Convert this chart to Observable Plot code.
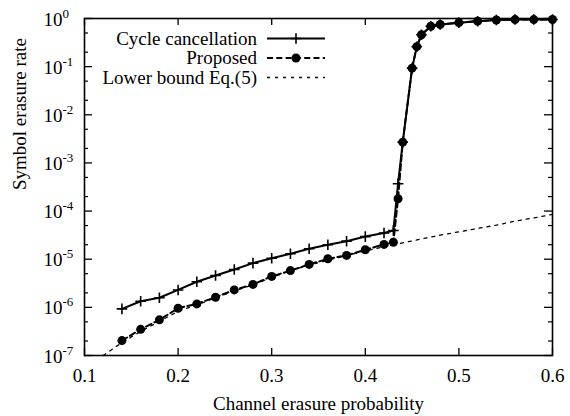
<!DOCTYPE html>
<html><head><meta charset="utf-8">
<script src="https://cdn.jsdelivr.net/npm/d3@7"></script>
<script src="https://cdn.jsdelivr.net/npm/@observablehq/plot@0.6"></script>
<style>
body{margin:0;background:#fff}
svg, svg text, svg tspan{font-family:"Liberation Serif","Times New Roman",Times,serif !important}
</style>
</head><body><div id="chart"></div>
<script>
// ---- data ----
const probability = [0.14,0.16,0.18,0.20,0.22,0.24,0.26,0.28,0.30,0.32,0.34,0.36,0.38,0.40,0.42,0.43,0.435,0.44,0.45,0.455,0.46,0.47,0.48,0.50,0.52,0.54,0.56,0.58,0.60];
const cycleRate = [9.3e-7,1.34e-6,1.58e-6,2.3e-6,3.4e-6,4.6e-6,6.1e-6,8.3e-6,1.05e-5,1.3e-5,1.65e-5,2.0e-5,2.37e-5,2.95e-5,3.5e-5,3.95e-5,3.7e-4,2.7e-3,0.093,0.26,0.46,0.69,0.75,0.82,0.88,0.93,0.95,0.95,0.955];
const proposedRate = [2.04e-7,3.5e-7,5.5e-7,9.6e-7,1.18e-6,1.62e-6,2.3e-6,3.0e-6,4.4e-6,5.8e-6,7.8e-6,1.02e-5,1.2e-5,1.57e-5,2.03e-5,2.25e-5,1.8e-4,2.7e-3,0.093,0.26,0.46,0.69,0.75,0.82,0.88,0.93,0.95,0.95,0.955];
const boundP = [0.12,0.14,0.16,0.18,0.20,0.22,0.24,0.26,0.28,0.30,0.32,0.34,0.36,0.38,0.40,0.42,0.44,0.46,0.48,0.50,0.52,0.54,0.56,0.58,0.60];
const boundRate = [1.0e-7,1.86e-7,3.16e-7,5.1e-7,8.3e-7,1.12e-6,1.58e-6,2.19e-6,2.95e-6,4.17e-6,5.75e-6,7.6e-6,9.5e-6,1.2e-5,1.48e-5,1.82e-5,2.19e-5,2.63e-5,3.16e-5,3.7e-5,4.37e-5,5.1e-5,6.2e-5,7.2e-5,8.5e-5];
const xTicks = [0.1,0.2,0.3,0.4,0.5,0.6];
const xTickLabels = ["0.1","0.2","0.3","0.4","0.5","0.6"];
const yMajor = [1e-7,1e-6,1e-5,1e-4,1e-3,1e-2,1e-1,1];
const yExponents = ["-7","-6","-5","-4","-3","-2","-1","0"];
const yMinor = [2e-7,5e-7,2e-6,5e-6,2e-5,5e-5,2e-4,5e-4,2e-3,5e-3,2e-2,5e-2,2e-1,5e-1];
const seriesNames = ["Cycle cancellation","Proposed","Lower bound Eq.(5)"];
const xTitle = "Channel erasure probability";
const yTitle = "Symbol erasure rate";

// ---- layout ----
const W = 570, H = 416, mL = 84, mR = 18, mT = 18, mB = 61;
const pw = W - mL - mR, ph = H - mT - mB;
const FONT = '"Liberation Serif", "Times New Roman", Times, serif';

const cycle = probability.map((p, i) => ({p, r: cycleRate[i]}));
const proposed = probability.map((p, i) => ({p, r: proposedRate[i]}));
const bound = boundP.map((p, i) => ({p, r: boundRate[i]}));

const chart = Plot.plot({
  width: W, height: H,
  marginLeft: mL, marginRight: mR, marginTop: mT, marginBottom: mB,
  style: {fontFamily: FONT, fontSize: "19px", background: "white", color: "black"},
  x: {domain: [0.1, 0.6], axis: null},
  y: {type: "log", domain: [1e-7, 1], axis: null},
  marks: [
    Plot.line(bound, {x: "p", y: "r", stroke: "black", strokeWidth: 1.3, strokeDasharray: "3,5"}),
    Plot.line(proposed, {x: "p", y: "r", stroke: "black", strokeWidth: 2, strokeDasharray: "6,3.3"}),
    Plot.dot(proposed, {x: "p", y: "r", r: 4.5, fill: "black", stroke: "none", symbol: "circle"}),
    Plot.line(cycle, {x: "p", y: "r", stroke: "black", strokeWidth: 2}),
    Plot.dot(cycle, {x: "p", y: "r", r: 3.5, symbol: "plus", stroke: "black", strokeWidth: 1.6}),
    Plot.ruleX(xTicks, {x: d => d, insetTop: ph - 7, stroke: "black", strokeWidth: 1.3}),
    Plot.ruleX(xTicks, {x: d => d, insetBottom: ph - 7, stroke: "black", strokeWidth: 1.3}),
    Plot.ruleY(yMajor, {y: d => d, insetRight: pw - 8, stroke: "black", strokeWidth: 1.3}),
    Plot.ruleY(yMajor, {y: d => d, insetLeft: pw - 8, stroke: "black", strokeWidth: 1.3}),
    Plot.ruleY(yMinor, {y: d => d, insetRight: pw - 4, stroke: "black", strokeWidth: 1.2}),
    Plot.ruleY(yMinor, {y: d => d, insetLeft: pw - 4, stroke: "black", strokeWidth: 1.2}),
    Plot.frame({stroke: "black", strokeWidth: 1.6}),
    Plot.text(xTicks, {x: d => d, frameAnchor: "bottom", lineAnchor: "top", dy: 13, text: (d, i) => xTickLabels[i], fill: "black"}),
    Plot.text(yMajor, {y: d => d, frameAnchor: "left", textAnchor: "start", dx: -41, dy: 1, text: (d, i) => "10^" + yExponents[i], fill: "black"}),
    Plot.text([xTitle], {frameAnchor: "bottom", lineAnchor: "top", dy: 41, text: d => d, fill: "black"}),
    Plot.text([yTitle], {frameAnchor: "left", rotate: -90, dx: -64.5, dy: 3, text: d => d, fill: "black"})
  ]
});

// superscript exponents on y tick labels
d3.select(chart).selectAll("text").each(function () {
  const t = this.textContent;
  if (t.startsWith("10^")) {
    const e = t.slice(3);
    this.textContent = "";
    d3.select(this).append("tspan").text("10");
    d3.select(this).append("tspan").attr("dy", -8).attr("font-size", 13).text(e);
  }
});

// legend (inside plot, top-left)
const leg = d3.select(chart).append("g").attr("font-size", 19).style("font-family", FONT);
const rows = [38.5, 58, 77.5];
const sx0 = 267, sx1 = 325, sxm = 296, tx = 257;
const styles = [
  {dash: null, w: 2, sym: "plus"},
  {dash: "6,3.3", w: 2, sym: "circle"},
  {dash: "3,5", w: 1.3, sym: null}
];
seriesNames.forEach((name, i) => {
  const y = rows[i];
  leg.append("text").attr("x", tx).attr("y", y + 6.3).attr("text-anchor", "end").attr("fill", "black").text(name);
  leg.append("line").attr("x1", sx0).attr("x2", sx1).attr("y1", y).attr("y2", y)
    .attr("stroke", "black").attr("stroke-width", styles[i].w)
    .attr("stroke-dasharray", styles[i].dash);
  if (styles[i].sym === "plus") {
    leg.append("path").attr("transform", `translate(${sxm},${y})`)
      .attr("d", d3.symbol(d3.symbolPlus, Math.PI * 12.25)()).attr("stroke", "black").attr("stroke-width", 1.6).attr("fill", "none");
  } else if (styles[i].sym === "circle") {
    leg.append("circle").attr("cx", sxm).attr("cy", y).attr("r", 4.5).attr("fill", "black");
  }
});

document.getElementById("chart").appendChild(chart);
</script>
</body></html>
